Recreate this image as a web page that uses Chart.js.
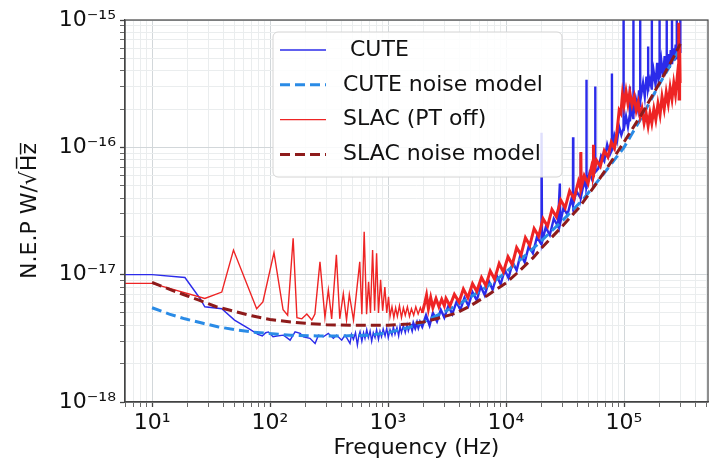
<!DOCTYPE html>
<html>
<head>
<meta charset="utf-8">
<script src="https://cdn.jsdelivr.net/npm/chart.js@4.4.0/dist/chart.umd.min.js"></script>
<style>
    html, body { margin: 0; padding: 0; background: #fff; }
    #wrap { width: 716px; height: 464px; }
</style>
</head>
<body>
<div id="wrap"><canvas id="nepChart" width="716" height="464"></canvas></div>
<script>
"use strict";

// --- data (Hz, W/sqrt(Hz)) ---
var cuteFreq = [
    5, 10, 19, 25.5, 28, 39, 50, 65, 79, 86,
    92, 97, 106, 114, 130, 148, 163, 180, 192, 218,
    241, 257, 283, 312, 344, 367, 405, 432, 455, 476,
    490, 509, 530, 550, 565, 579, 600, 620, 638, 660,
    681, 705, 727, 750, 776, 800, 830, 855, 880, 910,
    944, 975, 1005, 1040, 1080, 1110, 1146, 1190, 1230, 1264,
    1300, 1349, 1400, 1450, 1487, 1550, 1600, 1640, 1700, 1760,
    1807, 1866, 1950, 2100, 2250, 2400, 2600, 2800, 3000, 3250,
    3500, 3800, 4100, 4450, 4800, 5200, 5650, 6100, 6600, 7150,
    7700, 8350, 9000, 9750, 10500, 11400, 12300, 13300, 14400, 15600,
    16900, 18300, 19800, 20000, 20200, 21700, 23500, 25400, 27500, 28600,
    28800, 30700, 33200, 35900, 36900, 37000, 37200, 39500, 42800, 43000,
    43200, 46000, 47800, 48000, 48200, 51000, 54000, 56800, 57000, 57200,
    60500, 64000, 68000, 72000, 76000, 78800, 79000, 79200, 83000, 87000,
    91000, 95000, 98800, 99000, 99300, 104000, 108000, 111800, 112000, 112300,
    116000, 119700, 120000, 120400, 126000, 131000, 134000, 136700, 137000, 137400,
    145000, 150000, 155000, 159700, 160000, 160400, 166000, 171700, 172000, 172400,
    178000, 185000, 191000, 196000, 199700, 200000, 200400, 207000, 214000, 221000,
    226000, 229700, 230000, 230400, 237000, 244000, 249000, 254700, 255000, 255400,
    262000, 268000, 274000, 279700, 280000, 280400, 286000, 292000, 296000, 299700,
    300000, 300400
];
var cuteNep = [
    1.0e-17, 1.0e-17, 9.5e-18, 6.5e-18, 5.6e-18, 5.4e-18, 4.4e-18, 3.8e-18, 3.4e-18, 3.3e-18,
    3.5e-18, 3.55e-18, 3.25e-18, 3.3e-18, 3.35e-18, 3.06e-18, 3.56e-18, 3.46e-18, 3.25e-18, 3.16e-18,
    2.88e-18, 3.35e-18, 3.25e-18, 3.46e-18, 3.16e-18, 3.35e-18, 3.06e-18, 3.35e-18, 3.1e-18, 2.88e-18,
    3.4e-18, 3.1e-18, 3.5e-18, 2.8e-18, 3.3e-18, 3.56e-18, 3.0e-18, 3.5e-18, 3.16e-18, 3.7e-18,
    3.2e-18, 3.6e-18, 3.0e-18, 3.5e-18, 3.2e-18, 3.7e-18, 3.1e-18, 3.6e-18, 3.25e-18, 3.75e-18,
    3.3e-18, 3.8e-18, 3.2e-18, 3.7e-18, 3.35e-18, 3.9e-18, 3.4e-18, 3.85e-18, 3.3e-18, 3.95e-18,
    3.5e-18, 4.0e-18, 3.5e-18, 4.05e-18, 3.6e-18, 4.1e-18, 3.7e-18, 4.15e-18, 3.8e-18, 4.2e-18,
    3.85e-18, 4.25e-18, 3.9e-18, 4.8e-18, 4.0e-18, 5.0e-18, 4.3e-18, 5.3e-18, 4.6e-18, 5.7e-18,
    4.9e-18, 6.1e-18, 5.3e-18, 6.6e-18, 5.7e-18, 7.3e-18, 6.3e-18, 8.1e-18, 6.9e-18, 8.9e-18,
    7.6e-18, 9.8e-18, 8.4e-18, 1.09e-17, 9.4e-18, 1.25e-17, 1.08e-17, 1.45e-17, 1.25e-17, 1.68e-17,
    1.47e-17, 1.98e-17, 1.75e-17, 1.3e-16, 1.8e-17, 2.35e-17, 2.05e-17, 2.75e-17, 2.4e-17, 5.2e-17,
    2.55e-17, 3.35e-17, 2.95e-17, 3.95e-17, 3.5e-17, 1.2e-16, 3.6e-17, 4.55e-17, 4.0e-17, 9.0e-17,
    4.1e-17, 5.4e-17, 4.8e-17, 3.4e-16, 4.9e-17, 6.3e-17, 5.5e-17, 6.7e-17, 3.0e-16, 6.4e-17,
    6.8e-17, 8.6e-17, 7.8e-17, 1.05e-16, 8.8e-17, 9.5e-17, 3.8e-16, 9.4e-17, 1.25e-16, 1.1e-16,
    1.45e-16, 1.25e-16, 1.4e-16, 2e-15, 1.35e-16, 1.75e-16, 1.45e-16, 1.8e-16, 3.0e-16, 1.6e-16,
    2.1e-16, 1.7e-16, 2e-15, 1.8e-16, 2.4e-16, 2.0e-16, 2.8e-16, 2.1e-16, 2e-15, 2.3e-16,
    3.2e-16, 2.5e-16, 3.6e-16, 2.8e-16, 6.2e-16, 2.9e-16, 3.4e-16, 2.9e-16, 2e-15, 3.0e-16,
    4.0e-16, 3.1e-16, 4.6e-16, 3.4e-16, 3.6e-16, 2e-15, 3.5e-16, 4.8e-16, 3.6e-16, 5.2e-16,
    4.0e-16, 4.2e-16, 2e-15, 4.0e-16, 5.4e-16, 4.2e-16, 5.8e-16, 4.6e-16, 2e-15, 4.5e-16,
    6.0e-16, 4.8e-16, 6.4e-16, 5.0e-16, 2e-15, 5.2e-16, 7.0e-16, 5.6e-16, 7.5e-16, 6.0e-16,
    2e-15, 5.5e-16
];

var cuteModelFreq = [
    10, 14, 19, 27, 36, 50, 70, 96, 150, 250,
    400, 700, 1000, 1500, 2000, 3000, 4000, 6000, 8000, 10000,
    15000, 20000, 30000, 45000, 70000, 100000, 140000, 190000, 250000, 300000
];
var cuteModelNep = [
    5.5e-18, 4.9e-18, 4.5e-18, 4.15e-18, 3.9e-18, 3.7e-18, 3.55e-18, 3.45e-18, 3.35e-18, 3.3e-18,
    3.3e-18, 3.35e-18, 3.5e-18, 3.85e-18, 4.25e-18, 5.1e-18, 5.9e-18, 7.4e-18, 8.9e-18, 1.05e-17,
    1.45e-17, 1.85e-17, 2.65e-17, 3.9e-17, 6.5e-17, 1.0e-16, 1.7e-16, 2.9e-16, 4.5e-16, 6.0e-16
];

var slacFreq = [
    5, 10, 28, 39, 49, 77, 87, 108, 129, 141,
    157, 169, 186, 205, 226, 240, 265, 292, 312, 333,
    365, 390, 418, 445, 470, 510, 576, 600, 628, 658,
    684, 710, 740, 770, 800, 830, 865, 900, 940, 975,
    1010, 1040, 1080, 1120, 1160, 1200, 1250, 1300, 1350, 1400,
    1460, 1520, 1580, 1650, 1720, 1800, 1880, 1950, 2050, 2120,
    2200, 2300, 2400, 2550, 2700, 2850, 3000, 3100, 3350, 3650,
    4000, 4350, 4750, 5200, 5650, 6200, 6750, 7350, 8000, 8750,
    9500, 10400, 11300, 12300, 13400, 14600, 15900, 17300, 18900, 20600,
    22500, 24500, 26700, 29100, 31700, 34600, 37700, 41100, 42900, 43100,
    43300, 46000, 49500, 53000, 54800, 55000, 55200, 58500, 63000, 68000,
    73000, 78000, 83000, 87000, 91000, 94000, 97000, 100000, 104000, 108000,
    112000, 117000, 122000, 127000, 132000, 137000, 142000, 148000, 154000, 160000,
    166000, 172000, 179000, 186000, 194000, 202000, 210000, 219000, 228000, 237000,
    246000, 255000, 264000, 273000, 282000, 288000, 291000, 293000, 296000, 299000
];
var slacNep = [
    8.55e-18, 8.55e-18, 6.5e-18, 7.3e-18, 1.56e-17, 5.4e-18, 6.1e-18, 1.49e-17, 5.3e-18, 4.8e-18,
    1.93e-17, 4.6e-18, 4.5e-18, 4.9e-18, 4.4e-18, 4.9e-18, 1.26e-17, 4.6e-18, 7.6e-18, 4.5e-18,
    1.43e-17, 4.5e-18, 7.1e-18, 4.4e-18, 7.0e-18, 4.4e-18, 1.26e-17, 4.9e-18, 2.17e-17, 4.9e-18,
    8.8e-18, 5.0e-18, 1.56e-17, 5.2e-18, 1.47e-17, 5.0e-18, 9.1e-18, 5.2e-18, 8.0e-18, 5.0e-18,
    6.7e-18, 4.7e-18, 5.6e-18, 4.6e-18, 5.5e-18, 4.7e-18, 5.7e-18, 4.6e-18, 5.5e-18, 4.8e-18,
    5.6e-18, 4.7e-18, 5.4e-18, 4.8e-18, 5.6e-18, 4.9e-18, 5.5e-18, 5.0e-18, 6.0e-18, 6.9e-18,
    5.4e-18, 6.6e-18, 5.5e-18, 6.5e-18, 5.6e-18, 6.4e-18, 5.7e-18, 6.5e-18, 5.7e-18, 7.0e-18,
    6.1e-18, 7.7e-18, 6.6e-18, 8.5e-18, 7.4e-18, 9.5e-18, 8.2e-18, 1.07e-17, 9.2e-18, 1.22e-17,
    1.05e-17, 1.38e-17, 1.2e-17, 1.63e-17, 1.43e-17, 1.95e-17, 1.7e-17, 2.3e-17, 2.0e-17, 2.75e-17,
    2.4e-17, 3.25e-17, 2.85e-17, 3.85e-17, 3.35e-17, 4.55e-17, 3.95e-17, 5.4e-17, 4.7e-17, 9.2e-17,
    4.8e-17, 6.0e-17, 5.2e-17, 7.0e-17, 6.0e-17, 1.05e-16, 6.1e-17, 7.9e-17, 7.1e-17, 9.4e-17,
    8.4e-17, 1.1e-16, 9.8e-17, 1.3e-16, 1.95e-16, 1.85e-16, 2.6e-16, 2.15e-16, 2.75e-16, 2.2e-16,
    2.7e-16, 2.15e-16, 2.5e-16, 1.95e-16, 2.25e-16, 1.75e-16, 2.0e-16, 1.55e-16, 1.85e-16, 1.48e-16,
    1.85e-16, 1.55e-16, 2.0e-16, 1.65e-16, 2.2e-16, 1.8e-16, 2.5e-16, 2.0e-16, 2.7e-16, 2.2e-16,
    2.95e-16, 2.4e-16, 3.2e-16, 2.6e-16, 3.5e-16, 2.9e-16, 9.5e-16, 2.4e-16, 6.5e-16, 3.2e-16
];

var slacModelFreq = [
    10, 15, 20, 25, 35, 50, 70, 100, 150, 200,
    300, 500, 1000, 1500, 2000, 2800, 3800, 5000, 7000, 10000,
    13000, 17000, 20000, 30000, 42000, 60000, 80000, 100000, 140000, 200000,
    260000, 300000
];
var slacModelNep = [
    8.7e-18, 7.5e-18, 6.8e-18, 6.3e-18, 5.6e-18, 5.15e-18, 4.75e-18, 4.45e-18, 4.25e-18, 4.15e-18,
    4.05e-18, 4.0e-18, 4.0e-18, 4.1e-18, 4.25e-18, 4.6e-18, 5.0e-18, 5.7e-18, 6.9e-18, 8.6e-18,
    1.07e-17, 1.36e-17, 1.62e-17, 2.4e-17, 3.4e-17, 5.4e-17, 8.0e-17, 1.1e-16, 1.8e-16, 3.2e-16,
    5.0e-16, 6.5e-16
];

var seriesLabels = [' CUTE', 'CUTE noise model', 'SLAC (PT off)', 'SLAC noise model'];
var xRange = [5.9, 5.15e5];
var yRange = [1e-18, 1e-15];

var FONT = "'DejaVu Sans', sans-serif";
var SUP = {'-': '\u207b', '0': '\u2070', '1': '\u00b9', '2': '\u00b2', '3': '\u00b3',
           '4': '\u2074', '5': '\u2075', '6': '\u2076', '7': '\u2077', '8': '\u2078', '9': '\u2079'};

function isDecade(v) {
    var l = Math.log10(v);
    return Math.abs(l - Math.round(l)) < 1e-6;
}

function powerLabel(v) {
    var e = String(Math.round(Math.log10(v)));
    return '10' + e.split('').map(function (c) { return SUP[c]; }).join('');
}

// 1..9 x 10^n ticks so every minor grid line is drawn
function logTicks(lo, hi) {
    var out = [];
    for (var e = Math.floor(Math.log10(lo)); e <= Math.ceil(Math.log10(hi)); e++) {
        for (var m = 1; m < 10; m++) {
            var v = m * Math.pow(10, e);
            if (v >= lo * 0.999 && v <= hi * 1.001) {
                out.push({value: v});
            }
        }
    }
    return out;
}

function toPoints(xs, ys) {
    return xs.map(function (x, i) { return {x: x, y: ys[i]}; });
}

// the dense spectra look like a thick band once the rise starts
function bandWidth(from, thin, thick) {
    return function (ctx) {
        return ctx.p0.parsed.x >= from ? thick : thin;
    };
}

function gridColor(ctx) {
    return ctx.tick && isDecade(ctx.tick.value) ? '#d2d7da' : '#eaedee';
}

function tickWidth(ctx) {
    return ctx.tick && isDecade(ctx.tick.value) ? 1.3 : 0.8;
}

var axisFont = {family: FONT, size: 22};

var framePlugin = {
    id: 'frame',
    afterDatasetsDraw: function (chart) {
        var a = chart.chartArea, ctx = chart.ctx;
        ctx.save();
        ctx.strokeStyle = '#444';
        ctx.lineWidth = 1.2;
        ctx.strokeRect(a.left, a.top, a.right - a.left, a.bottom - a.top);
        ctx.restore();
    }
};

// legend box inside the plot, drawn like the matplotlib one
var legendPlugin = {
    id: 'insideLegend',
    afterDraw: function (chart) {
        var ctx = chart.ctx, a = chart.chartArea;
        var x = a.left + 148, y = a.top + 12, w = 289, h = 145, r = 5;
        ctx.save();
        ctx.beginPath();
        ctx.moveTo(x + r, y);
        ctx.arcTo(x + w, y, x + w, y + h, r);
        ctx.arcTo(x + w, y + h, x, y + h, r);
        ctx.arcTo(x, y + h, x, y, r);
        ctx.arcTo(x, y, x + w, y, r);
        ctx.closePath();
        ctx.fillStyle = 'rgba(255,255,255,0.85)';
        ctx.fill();
        ctx.strokeStyle = '#d4d4d4';
        ctx.lineWidth = 1;
        ctx.stroke();

        ctx.font = '22px ' + FONT;
        ctx.textBaseline = 'middle';
        ctx.fillStyle = '#111';
        chart.data.datasets.forEach(function (ds, i) {
            var cy = y + 18 + i * 34.8;
            ctx.beginPath();
            ctx.setLineDash(ds.borderDash || []);
            ctx.strokeStyle = ds.borderColor;
            ctx.lineWidth = ds.borderWidth;
            ctx.moveTo(x + 7, cy);
            ctx.lineTo(x + 53, cy);
            ctx.stroke();
            ctx.setLineDash([]);
            ctx.fillText(ds.label, x + 70, cy);
        });
        ctx.restore();
    }
};

new Chart(document.getElementById('nepChart'), {
    type: 'line',
    data: {
        datasets: [{
            label: seriesLabels[0],
            data: toPoints(cuteFreq, cuteNep),
            borderColor: '#2b2bea',
            borderWidth: 1.4,
            segment: {borderWidth: bandWidth(1500, 1.4, 2.4)},
            order: 4
        }, {
            label: seriesLabels[1],
            data: toPoints(cuteModelFreq, cuteModelNep),
            borderColor: '#2a8be6',
            borderWidth: 3,
            borderDash: [10, 5],
            order: 3
        }, {
            label: seriesLabels[2],
            data: toPoints(slacFreq, slacNep),
            borderColor: '#ee2424',
            borderWidth: 1.4,
            segment: {borderWidth: bandWidth(1900, 1.4, 3)},
            order: 2
        }, {
            label: seriesLabels[3],
            data: toPoints(slacModelFreq, slacModelNep),
            borderColor: '#8e1b1b',
            borderWidth: 3,
            borderDash: [10, 5],
            order: 1
        }]
    },
    options: {
        responsive: false,
        animation: false,
        events: [],
        devicePixelRatio: 1,
        layout: {padding: {left: 8, right: 8, top: 20, bottom: 0}},
        elements: {
            point: {radius: 0},
            line: {tension: 0, fill: false}
        },
        plugins: {
            legend: {display: false},
            tooltip: {enabled: false}
        },
        scales: {
            x: {
                type: 'logarithmic',
                min: xRange[0],
                max: xRange[1],
                afterBuildTicks: function (scale) { scale.ticks = logTicks(scale.min, scale.max); },
                afterFit: function (scale) { scale.height = 62; },
                ticks: {
                    autoSkip: false,
                    maxRotation: 0,
                    padding: 3,
                    color: '#111',
                    font: axisFont,
                    callback: function (v) { return isDecade(v) ? powerLabel(v) : ''; }
                },
                grid: {color: gridColor, tickColor: '#444', tickWidth: tickWidth, tickLength: 5},
                border: {color: '#444', width: 1.2},
                title: {
                    display: true,
                    text: 'Frequency (Hz)',
                    color: '#111',
                    font: axisFont,
                    padding: {top: 0, bottom: 3}
                }
            },
            y: {
                type: 'logarithmic',
                min: yRange[0],
                max: yRange[1],
                afterBuildTicks: function (scale) { scale.ticks = logTicks(scale.min, scale.max); },
                afterFit: function (scale) { scale.width = 117; },
                ticks: {
                    autoSkip: false,
                    padding: 4,
                    color: '#111',
                    font: axisFont,
                    callback: function (v) { return isDecade(v) ? powerLabel(v) : ''; }
                },
                grid: {color: gridColor, tickColor: '#444', tickWidth: tickWidth, tickLength: 5},
                border: {color: '#444', width: 1.2},
                title: {
                    display: true,
                    text: 'N.E.P W/\u221aH\u0305z\u0305',
                    color: '#111',
                    font: axisFont,
                    padding: {top: 9, bottom: 0}
                }
            }
        }
    },
    plugins: [framePlugin, legendPlugin]
});
</script>
</body>
</html>
